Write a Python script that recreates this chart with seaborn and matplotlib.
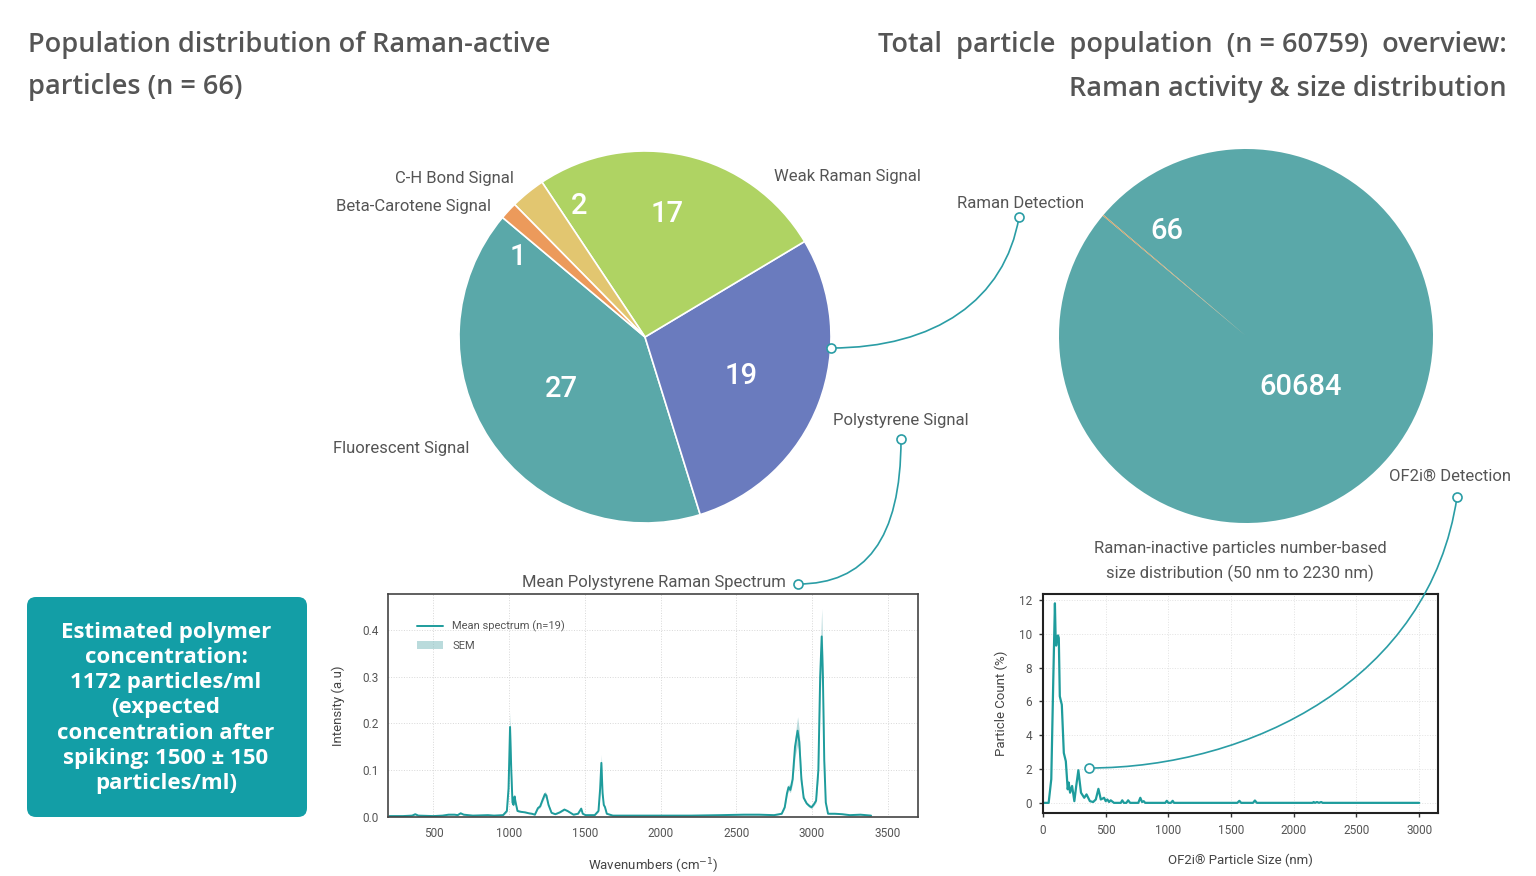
import numpy as np
import pandas as pd
import seaborn as sns
import matplotlib.pyplot as plt
from matplotlib.patches import FancyBboxPatch, PathPatch
from matplotlib.path import Path

# ---- data ----
raman_labels = ["Fluorescent Signal", "Polystyrene Signal", "Weak Raman Signal",
                "C-H Bond Signal", "Beta-Carotene Signal"]
raman_counts = [27, 19, 17, 2, 1]
raman_colors = ["#5AA8A9", "#6A7BBE", "#AFD363", "#E2C670", "#EC9A5B"]

total_labels = ["OF2i® Detection", "Raman Detection"]
total_counts = [60684, 66]
total_colors = ["#5AA8A9", "#C9A36A"]

wavenumbers = [210, 300, 360, 380, 400, 500, 560, 600, 640, 660,
               680, 700, 760, 860, 900, 960, 985, 996, 1006, 1014,
               1022, 1029, 1036, 1043, 1055, 1080, 1105, 1130, 1150, 1170,
               1190, 1205, 1220, 1236, 1246, 1260, 1280, 1305, 1335, 1365,
               1385, 1425, 1455, 1476, 1486, 1505, 1565, 1590, 1601, 1609,
               1617, 1625, 1633, 1645, 1685, 1800, 2000, 2200, 2400, 2550,
               2650, 2750, 2800, 2820, 2835, 2845, 2857, 2872, 2888, 2905,
               2916, 2930, 2945, 2965, 2985, 2997, 3012, 3027, 3042, 3054,
               3064, 3072, 3081, 3091, 3106, 3150, 3200, 3250, 3320, 3390]
intensity = [0.001, 0.001, 0.002, 0.005, 0.002, 0.001, 0.002, 0.004, 0.004, 0.003,
             0.007, 0.004, 0.002, 0.003, 0.002, 0.003, 0.012, 0.06, 0.192, 0.10,
             0.03, 0.025, 0.043, 0.03, 0.012, 0.01, 0.009, 0.007, 0.006, 0.004,
             0.018, 0.022, 0.035, 0.048, 0.045, 0.025, 0.008, 0.005, 0.009, 0.015,
             0.012, 0.004, 0.006, 0.017, 0.006, 0.003, 0.003, 0.012, 0.06, 0.115,
             0.05, 0.025, 0.02, 0.006, 0.002, 0.002, 0.002, 0.002, 0.003, 0.004,
             0.004, 0.003, 0.006, 0.02, 0.05, 0.063, 0.057, 0.08, 0.15, 0.184,
             0.16, 0.08, 0.04, 0.028, 0.022, 0.02, 0.026, 0.034, 0.1, 0.3,
             0.386, 0.3, 0.12, 0.03, 0.006, 0.006, 0.005, 0.003, 0.004, 0.002]
sem = [0.001, 0.001, 0.001, 0.001, 0.001, 0.001, 0.001, 0.001, 0.001, 0.001,
       0.001, 0.001, 0.001, 0.001, 0.001, 0.001, 0.003, 0.01, 0.032, 0.015,
       0.004, 0.003, 0.005, 0.003, 0.002, 0.001, 0.001, 0.001, 0.001, 0.001,
       0.002, 0.003, 0.004, 0.006, 0.005, 0.003, 0.001, 0.001, 0.001, 0.002,
       0.001, 0.001, 0.001, 0.002, 0.001, 0.001, 0.001, 0.002, 0.008, 0.018,
       0.007, 0.003, 0.003, 0.001, 0.001, 0.001, 0.001, 0.001, 0.001, 0.001,
       0.001, 0.001, 0.001, 0.003, 0.006, 0.007, 0.006, 0.01, 0.022, 0.03,
       0.025, 0.01, 0.005, 0.003, 0.003, 0.003, 0.003, 0.004, 0.015, 0.045,
       0.06, 0.045, 0.015, 0.004, 0.001, 0.001, 0.001, 0.001, 0.001, 0.001]

size_nm = [0, 45, 66, 82, 95, 100, 105, 113, 120, 126,
           134, 150, 166, 182, 197, 205, 216, 232, 250, 265,
           282, 303, 329, 347, 374, 400, 421, 442, 461, 487,
           500, 513, 527, 540, 566, 620, 632, 645, 665, 679,
           695, 760, 776, 790, 803, 815, 975, 987, 1000, 1020,
           1034, 1045, 1550, 1566, 1580, 1675, 1690, 1705, 2150, 2158,
           2170, 2185, 2200, 2219, 2230, 3000]
count_pct = [0, 0, 1.4, 7.3, 11.8, 10.0, 9.3, 9.8, 9.9, 9.75,
             6.3, 5.8, 2.95, 2.46, 0.8, 1.2, 0.6, 1.0, 0.1, 1.0,
             1.93, 0.6, 0.3, 0.5, 0.1, 0.05, 0.2, 0.83, 0.2, 0.3,
             0.1, 0.2, 0.05, 0.15, 0, 0, 0.15, 0, 0, 0.15,
             0, 0, 0.3, 0.05, 0.1, 0, 0, 0.12, 0, 0,
             0.12, 0, 0, 0.12, 0, 0, 0.14, 0, 0, 0.05,
             0, 0.05, 0, 0.05, 0, 0]

spec_df = pd.DataFrame({"wn": wavenumbers, "I": intensity, "sem": sem})
size_df = pd.DataFrame({"size": size_nm, "pct": count_pct})

# ---- style ----
sns.set_theme(style="white")
plt.rcParams['font.family'] = ['Roboto', 'DejaVu Sans']
teal = "#1E9C9C"
link = "#2A9DA5"
grey = "#555555"

W, H = 1536, 876
fig = plt.figure(figsize=(W / 100, H / 100), dpi=100)


def px_axes(l, t, r, b, **kw):
    return fig.add_axes([l / W, 1 - b / H, (r - l) / W, (b - t) / H], **kw)


# pie 1: Raman-active populations
ax1 = px_axes(459, 151, 831, 523)
w1, _ = ax1.pie(raman_counts, colors=raman_colors, startangle=140, counterclock=True,
                wedgeprops=dict(edgecolor="white", linewidth=1.2))
ax1.set_xlim(-1, 1)
ax1.set_ylim(-1, 1)
num_pos = [(212, 0.53), (338, 0.56), (80, 0.67), (116.6, 0.79), (147.8, 0.81)]
for n, (ang, r) in zip(raman_counts, num_pos):
    a = np.deg2rad(ang)
    ax1.text(r * np.cos(a), r * np.sin(a), str(n), ha="center", va="center",
             color="white", fontsize=21, fontweight="medium")

# pie 2: total population
ax2 = px_axes(1059, 149, 1433, 523)
w2, _ = ax2.pie(total_counts, colors=total_colors, startangle=140, counterclock=True,
                wedgeprops=dict(linewidth=0))
ax2.set_xlim(-1, 1)
ax2.set_ylim(-1, 1)
for n, (ang, r) in zip(total_counts, [(-43, 0.40), (127, 0.70)]):
    a = np.deg2rad(ang)
    ax2.text(r * np.cos(a), r * np.sin(a), str(n), ha="center", va="center",
             color="white", fontsize=21, fontweight="medium")

# spectrum
ax3 = px_axes(388, 594, 918, 817)
ax3.fill_between(spec_df["wn"], spec_df["I"] - spec_df["sem"], spec_df["I"] + spec_df["sem"],
                 color="#8CC3C6", alpha=0.6, linewidth=0, label="SEM")
sns.lineplot(data=spec_df, x="wn", y="I", ax=ax3, color=teal, linewidth=1.4,
             label="Mean spectrum (n=19)")
ax3.set_xlim(200, 3700)
ax3.set_ylim(-0.001, 0.477)
ax3.set_xticks([500, 1000, 1500, 2000, 2500, 3000, 3500])
ax3.set_yticks([0.0, 0.1, 0.2, 0.3, 0.4])
ax3.set_yticklabels(["0.0", "0.1", "0.2", "0.3", "0.4"])
ax3.grid(True, color="#d8d8d8", linestyle=":", linewidth=0.7)
h, l = ax3.get_legend_handles_labels()
ax3.legend(h[::-1], l[::-1], loc="upper left", bbox_to_anchor=(0.035, 0.925), frameon=False,
           fontsize=8, handlelength=2.4, labelspacing=0.75, labelcolor=grey)
ax3.set_xlabel("Wavenumbers (cm$^{-1}$)", fontsize=9.5, color="#444444", labelpad=12)
ax3.set_ylabel("Intensity (a.u)", fontsize=9.5, color="#444444", labelpad=12)
ax3.tick_params(labelsize=8.5, labelcolor=grey, length=0, pad=7)
for s in ax3.spines.values():
    s.set_color("#444444")
    s.set_linewidth(1.2)

# size distribution
ax4 = px_axes(1043, 594, 1438, 813)
sns.lineplot(data=size_df, x="size", y="pct", ax=ax4, color=teal, linewidth=1.6)
ax4.set_xlim(0, 3150)
ax4.set_ylim(-0.6, 12.35)
ax4.set_xticks([0, 500, 1000, 1500, 2000, 2500, 3000])
ax4.set_yticks([0, 2, 4, 6, 8, 10, 12])
ax4.grid(True, color="#e2e2e2", linestyle=":", linewidth=0.7)
ax4.set_xlabel("OF2i® Particle Size (nm)", fontsize=9.5, color="#444444", labelpad=12)
ax4.set_ylabel("Particle Count (%)", fontsize=9.5, color="#444444", labelpad=8)
ax4.tick_params(labelsize=8.5, labelcolor=grey, length=3, width=1, color="#333333",
                pad=5, left=True, bottom=True)
for s in ax4.spines.values():
    s.set_color("#222222")
    s.set_linewidth(1.5)

# ---- overlay: titles, labels, connectors, box ----
ov = fig.add_axes([0, 0, 1, 1], zorder=20)
ov.set_xlim(0, W)
ov.set_ylim(H, 0)
ov.axis("off")
ov.patch.set_alpha(0)

tfont = dict(family=["Open Sans", "DejaVu Sans"], fontweight="semibold", fontsize=19.5,
             color=grey, va="center")
ov.text(28, 45, "Population distribution of Raman-active", ha="left", **tfont)
ov.text(28, 87, "particles (n = 66)", ha="left", **tfont)
ov.text(1507, 45, "Total  particle  population  (n = 60759)  overview:", ha="right", **tfont)
ov.text(1507, 89, "Raman activity & size distribution", ha="right", **tfont)

lfont = dict(fontsize=12, color=grey, va="center")
ov.text(514, 179, "C-H Bond Signal", ha="right", **lfont)
ov.text(491, 206, "Beta-Carotene Signal", ha="right", **lfont)
ov.text(774, 176, "Weak Raman Signal", ha="left", **lfont)
ov.text(333, 449, "Fluorescent Signal", ha="left", **lfont)
ov.text(901, 421, "Polystyrene Signal", ha="center", **lfont)
ov.text(1021, 203, "Raman Detection", ha="center", **lfont)
ov.text(1450, 476, "OF2i® Detection", ha="center", **lfont)
ov.text(654, 583, "Mean Polystyrene Raman Spectrum", ha="center", **lfont)
ov.text(1240, 548, "Raman-inactive particles number-based", ha="center", **lfont)
ov.text(1240, 573, "size distribution (50 nm to 2230 nm)", ha="center", **lfont)

curves = [
    [(1019, 217), (1005, 300), (935, 348), (831, 348)],
    [(901, 439), (901, 540), (865, 584), (798, 584)],
    [(1457, 497), (1430, 680), (1250, 768), (1089, 768)],
]
for pts in curves:
    path = Path(pts, [Path.MOVETO, Path.CURVE4, Path.CURVE4, Path.CURVE4])
    ov.add_patch(PathPatch(path, facecolor="none", edgecolor=link, linewidth=1.2))
    ov.plot([pts[0][0], pts[-1][0]], [pts[0][1], pts[-1][1]], "o", ms=6.5,
            mfc="white", mec=link, mew=1.2, linestyle="none")

ov.add_patch(FancyBboxPatch((27, 597), 280, 220, boxstyle="round,pad=0,rounding_size=9",
                            facecolor="#139EA6", edgecolor="none"))
ov.text(166, 708, "Estimated polymer\nconcentration:\n1172 particles/ml\n(expected\n"
        "concentration after\nspiking: 1500 ± 150\nparticles/ml)",
        ha="center", va="center", color="white", fontsize=16, fontweight="bold",
        family=["Open Sans", "DejaVu Sans"], linespacing=1.26)

fig.savefig("out.png", dpi=100)
